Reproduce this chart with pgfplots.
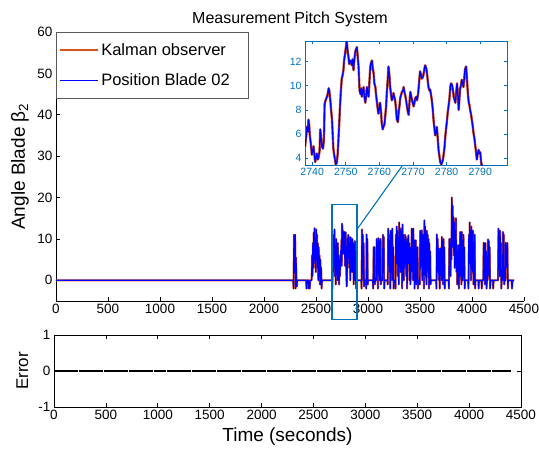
\documentclass[border=0pt]{standalone}
\usepackage{fontspec}
\setmainfont{Liberation Sans}
\usepackage{pgfplots}
\usepackage{pgfplotstable}
\pgfplotsset{compat=1.18}
\definecolor{korange}{RGB}{217,83,25}
\definecolor{pblue}{RGB}{0,0,255}
\definecolor{mblue}{RGB}{0,114,189}

\pgfplotstableread[row sep=\\]{
t v \\
0 0 \\ 2280 0 \\ 2284 -2 \\ 2288 11 \\ 2292 10.5 \\ 2296 2 \\ 2300 11 \\ 2304 -2 \\ 2308 5.5 \\ 2312 0.5 \\ 2316 -1.5 \\ 2320 0 \\
2405 0 \\ 2408 -2 \\ 2412 0 \\ 2425 0 \\ 2428 -2 \\ 2432 0 \\ 2440 -2 \\ 2444 0 \\ 2458 0 \\
2462 6 \\ 2466 1 \\ 2470 9 \\ 2474 3 \\ 2478 11.5 \\ 2482 5 \\ 2486 12.6 \\ 2490 4 \\ 2494 10 \\ 2498 2 \\ 2502 12.3 \\ 2506 6 \\ 2510 11 \\ 2514 3 \\ 2518 9 \\ 2522 0 \\ 2526 8 \\ 2530 2 \\ 2534 6 \\ 2538 -1 \\ 2542 5 \\ 2546 0 \\ 2550 3 \\ 2554 -2 \\ 2558 0 \\
2655 0 \\ 2658 -2 \\ 2662 9 \\ 2666 2 \\ 2670 11 \\ 2674 4 \\ 2678 12.3 \\ 2682 1 \\ 2686 8 \\ 2690 -1 \\ 2694 10 \\ 2698 3 \\ 2702 7 \\ 2706 0 \\ 2710 9 \\ 2714 2 \\ 2718 6 \\ 2722 -1 \\ 2726 5 \\ 2730 1 \\ 2734 4 \\
2737.9 5.0 \\ 2738.2 5.8 \\ 2738.4 6.6 \\ 2738.7 6.2 \\ 2738.9 7.2 \\ 2739.1 6.8 \\ 2739.3 5.9 \\ 2739.6 5.2 \\ 2739.9 4.3 \\ 2740.1 4.6 \\
2740.4 5.0 \\ 2740.7 4.2 \\ 2740.9 3.7 \\ 2741.2 4.1 \\ 2741.4 4.4 \\ 2741.7 3.9 \\ 2741.9 4.1 \\ 2742.2 4.6 \\ 2742.4 6.4 \\ 2742.7 5.6 \\
2742.9 5.0 \\ 2743.2 4.8 \\ 2743.5 5.5 \\ 2743.7 8.5 \\ 2744.0 8.8 \\ 2744.4 9.1 \\ 2744.6 9.3 \\ 2744.9 9.8 \\ 2745.1 9.6 \\ 2745.4 8.8 \\
2745.6 8.1 \\ 2745.9 7.2 \\ 2746.1 6.0 \\ 2746.3 4.8 \\ 2746.6 4.2 \\ 2746.8 3.9 \\ 2747.0 3.5 \\ 2747.3 3.6 \\ 2747.6 4.4 \\ 2747.8 5.5 \\
2748.1 7.2 \\ 2748.3 8.4 \\ 2748.5 9.4 \\ 2748.8 10.6 \\ 2749.0 10.8 \\ 2749.3 11.3 \\ 2749.5 12.1 \\ 2749.8 12.7 \\ 2750.0 13.1 \\ 2750.3 13.7 \\
2750.5 13.0 \\ 2750.8 12.4 \\ 2751.0 11.8 \\ 2751.3 12.1 \\ 2751.5 12.0 \\ 2751.8 11.7 \\ 2752.0 12.2 \\ 2752.3 11.3 \\ 2752.5 12.0 \\ 2752.8 12.8 \\
2753.0 13.0 \\ 2753.3 13.2 \\ 2753.5 12.6 \\ 2753.8 11.6 \\ 2754.1 9.6 \\ 2754.4 9.3 \\ 2754.6 9.8 \\ 2754.8 9.1 \\ 2755.0 9.5 \\ 2755.3 9.9 \\
2755.5 9.2 \\ 2755.8 8.6 \\ 2756.0 9.0 \\ 2756.3 9.9 \\ 2756.5 9.4 \\ 2756.8 9.1 \\ 2757.0 10.2 \\ 2757.3 11.6 \\ 2757.5 11.9 \\ 2757.8 12.1 \\
2758.0 11.5 \\ 2758.3 11.0 \\ 2758.5 10.2 \\ 2758.8 9.9 \\ 2759.0 9.3 \\ 2759.2 8.8 \\ 2759.5 8.1 \\ 2759.7 7.7 \\ 2760.0 8.2 \\ 2760.2 8.6 \\
2760.5 7.8 \\ 2760.7 6.9 \\ 2761.0 6.4 \\ 2761.2 6.6 \\ 2761.5 6.8 \\ 2761.7 7.4 \\ 2762.0 8.3 \\ 2762.2 9.4 \\ 2762.5 10.6 \\ 2762.7 11.6 \\
2763.0 10.8 \\ 2763.2 9.9 \\ 2763.5 9.2 \\ 2763.7 8.8 \\ 2764.0 9.1 \\ 2764.2 9.4 \\ 2764.5 9.0 \\ 2764.7 8.8 \\ 2765.0 7.9 \\ 2765.2 7.2 \\
2765.5 7.0 \\ 2765.7 7.7 \\ 2766.0 8.4 \\ 2766.2 9.0 \\ 2766.5 9.3 \\ 2766.7 9.5 \\ 2767.0 9.6 \\ 2767.2 9.9 \\ 2767.5 9.4 \\ 2767.7 9.2 \\
2768.0 8.7 \\ 2768.2 8.3 \\ 2768.5 7.8 \\ 2768.7 7.6 \\ 2769.0 8.8 \\ 2769.2 9.5 \\ 2769.5 9.1 \\ 2769.7 8.8 \\ 2770.0 8.5 \\ 2770.2 8.3 \\
2770.5 8.7 \\ 2770.7 9.0 \\ 2771.0 9.1 \\ 2771.2 8.8 \\ 2771.5 9.3 \\ 2771.7 9.9 \\ 2771.9 10.6 \\ 2772.1 11.2 \\ 2772.4 10.9 \\ 2772.6 10.6 \\
2772.9 10.7 \\ 2773.1 10.9 \\ 2773.4 11.4 \\ 2773.6 11.7 \\ 2773.9 11.5 \\ 2774.1 11.2 \\ 2774.4 10.4 \\ 2774.6 9.9 \\ 2774.9 9.6 \\ 2775.1 9.7 \\
2775.4 9.2 \\ 2775.6 8.8 \\ 2775.9 8.0 \\ 2776.1 7.2 \\ 2776.4 6.4 \\ 2776.6 5.9 \\ 2776.9 6.2 \\ 2777.1 6.6 \\ 2777.4 5.5 \\ 2777.6 4.7 \\
2777.9 4.1 \\ 2778.1 3.7 \\ 2778.4 3.5 \\ 2778.6 3.6 \\ 2778.9 3.9 \\ 2779.1 4.3 \\ 2779.4 5.0 \\ 2779.6 5.8 \\ 2779.9 6.6 \\ 2780.1 7.1 \\
2780.3 7.7 \\ 2780.6 8.4 \\ 2780.8 8.8 \\ 2781.1 9.9 \\ 2781.3 10.2 \\ 2781.6 10.1 \\ 2781.9 9.6 \\ 2782.1 9.1 \\ 2782.4 8.8 \\ 2782.6 8.6 \\
2782.9 9.6 \\ 2783.1 10.2 \\ 2783.4 9.0 \\ 2783.6 8.0 \\ 2783.8 8.9 \\ 2784.0 9.7 \\ 2784.3 10.1 \\ 2784.5 10.5 \\ 2784.8 10.2 \\ 2785.0 9.9 \\
2785.3 10.8 \\ 2785.5 11.4 \\ 2785.8 11.6 \\ 2786.0 10.8 \\ 2786.2 9.9 \\ 2786.4 9.1 \\ 2786.6 8.6 \\ 2786.8 8.4 \\ 2787.0 8.0 \\ 2787.3 7.6 \\
2787.5 7.2 \\ 2787.8 6.6 \\ 2788.0 6.1 \\ 2788.3 5.6 \\ 2788.5 5.1 \\ 2788.8 4.4 \\ 2789.0 3.9 \\ 2789.2 4.3 \\ 2789.5 4.7 \\ 2789.8 4.4 \\
2790.0 4.5 \\ 2790.3 3.6 \\ 2790.7 3.3 \\ 2791.2 2.0 \\ 2792.0 1.0 \\
2795 -1.5 \\ 2799 0.5 \\ 2802 10 \\ 2806 4 \\ 2810 11 \\ 2814 7 \\ 2818 10.5 \\ 2822 3 \\ 2826 9 \\ 2830 0 \\ 2834 10.4 \\ 2838 5 \\ 2842 9.6 \\ 2846 2 \\ 2850 10 \\ 2854 6 \\ 2858 9 \\ 2862 -1 \\ 2866 8 \\ 2870 3 \\ 2874 9.5 \\ 2878 0 \\ 2882 7 \\ 2886 -2 \\ 2890 0 \\
2935 0 \\ 2938 -2 \\ 2942 12.3 \\ 2946 5 \\ 2950 11 \\ 2954 0 \\ 2958 9 \\ 2962 -1.5 \\ 2966 0 \\ 2980 0 \\ 2983 -2 \\ 2986 11.1 \\ 2990 7 \\ 2994 10 \\ 2998 -1 \\ 3002 0 \\
3045 0 \\ 3050 -2 \\ 3054 8 \\ 3058 6 \\ 3062 8 \\ 3066 -1 \\ 3070 0 \\ 3080 0 \\ 3084 10 \\ 3088 3 \\ 3092 9 \\ 3096 -2 \\ 3100 10.2 \\ 3104 5 \\ 3108 9.5 \\ 3112 0 \\ 3116 7 \\ 3120 10 \\ 3124 -1 \\ 3128 0 \\
3140 0 \\ 3144 11 \\ 3148 4 \\ 3152 10.5 \\ 3156 -2 \\ 3160 0 \\ 3185 0 \\ 3190 -1 \\ 3194 12.5 \\ 3198 6 \\ 3202 11 \\ 3206 2 \\ 3210 9 \\ 3214 -2 \\ 3218 12 \\ 3222 4 \\ 3226 10 \\ 3230 0 \\ 3234 12.5 \\ 3238 3 \\ 3242 8 \\ 3246 -2 \\ 3250 0 \\
3262 0 \\ 3265 -2 \\ 3268 11 \\ 3272 4 \\ 3276 13 \\ 3280 6 \\ 3284 12 \\ 3288 1 \\ 3292 10 \\ 3296 -1 \\ 3300 14 \\ 3304 5 \\ 3308 11 \\ 3312 2 \\ 3316 12.5 \\ 3320 7 \\ 3324 10 \\ 3328 -2 \\ 3332 13.5 \\ 3336 4 \\ 3340 11 \\ 3344 0 \\ 3348 9 \\ 3352 3 \\
3356 11 \\ 3360 5 \\ 3364 10.5 \\ 3368 1 \\ 3372 9 \\ 3376 -2 \\ 3380 10 \\ 3384 4 \\ 3388 10.9 \\ 3392 6 \\ 3396 9 \\ 3400 0 \\ 3404 8 \\ 3408 -1 \\ 3412 6 \\ 3416 2 \\ 3420 12.5 \\ 3424 5 \\ 3428 11 \\ 3432 0 \\ 3436 12.5 \\ 3440 3 \\ 3444 9.7 \\ 3448 -2 \\
3452 7 \\ 3456 1 \\ 3460 9.7 \\ 3464 -1 \\ 3468 4 \\ 3472 0 \\ 3476 8 \\ 3480 -2 \\ 3484 0 \\ 3495 0 \\ 3498 -1 \\ 3502 12 \\ 3506 3 \\ 3510 10 \\ 3514 5 \\ 3518 12.1 \\ 3522 0 \\ 3526 9 \\ 3530 4 \\ 3534 11 \\ 3538 -2 \\ 3542 14.5 \\ 3546 6 \\ 3550 13 \\
3554 1 \\ 3558 8 \\ 3562 -1 \\ 3566 12 \\ 3570 4 \\ 3574 11 \\ 3578 2 \\ 3582 10 \\ 3586 -2 \\ 3590 9 \\ 3594 3 \\ 3598 7 \\ 3602 -1 \\ 3606 0 \\
3655 0 \\ 3658 -2 \\ 3662 11.1 \\ 3666 5 \\ 3670 10 \\ 3674 2 \\ 3678 7.7 \\ 3682 0 \\ 3686 7 \\ 3690 -2 \\ 3694 7.7 \\ 3698 3 \\ 3702 6 \\ 3706 0 \\ 3710 10.5 \\ 3714 4 \\ 3718 9 \\ 3722 -1 \\ 3726 10 \\ 3730 2 \\ 3734 8 \\ 3738 -2 \\ 3742 0 \\
3775 0 \\ 3778 -2 \\ 3782 10 \\ 3786 3 \\ 3790 9 \\ 3794 1 \\ 3798 10.1 \\ 3802 5 \\ 3806 20 \\ 3810 13 \\ 3814 18 \\ 3818 8 \\ 3822 15.3 \\ 3826 6 \\ 3830 14 \\ 3834 3 \\ 3838 12 \\ 3842 5 \\ 3846 15 \\ 3850 2 \\ 3854 8.5 \\ 3858 -1 \\ 3862 7 \\ 3866 2 \\
3870 8.5 \\ 3874 -2 \\ 3878 6 \\ 3882 1 \\ 3886 11.7 \\ 3890 4 \\ 3894 10 \\ 3898 -1 \\ 3902 11.7 \\ 3906 3 \\ 3910 9 \\ 3914 0 \\ 3918 11 \\ 3922 2 \\ 3926 8 \\ 3930 -2 \\ 3934 0 \\
3962 0 \\ 3966 -2 \\ 3970 11 \\ 3974 4 \\ 3978 14 \\ 3982 6 \\ 3986 12 \\ 3990 0 \\ 3994 13 \\ 3998 5 \\ 4002 11 \\ 4006 2 \\ 4010 12 \\ 4014 -1 \\ 4018 9 \\ 4022 3 \\ 4026 11 \\ 4030 -2 \\ 4034 0 \\
4060 0 \\ 4064 -2 \\ 4068 0 \\ 4090 0 \\ 4094 -2 \\ 4098 0 \\ 4108 0 \\ 4112 9.1 \\ 4116 3 \\ 4120 8.5 \\ 4124 -1 \\ 4128 9 \\ 4132 2 \\ 4136 7 \\ 4140 -2 \\ 4144 0 \\
4150 0 \\ 4154 9.9 \\ 4158 4 \\ 4162 9.5 \\ 4166 1 \\ 4170 8 \\ 4174 -2 \\ 4178 0 \\ 4200 0 \\ 4204 -2 \\ 4208 0 \\
4250 0 \\ 4254 12.5 \\ 4258 5 \\ 4262 11 \\ 4266 1 \\ 4270 12 \\ 4274 3 \\ 4278 9 \\ 4282 -2 \\ 4286 0 \\ 4295 0 \\ 4298 11.7 \\ 4302 4 \\ 4306 11 \\ 4310 -1 \\ 4314 0 \\
4322 0 \\ 4325 9.1 \\ 4329 3 \\ 4333 8.5 \\ 4337 6 \\ 4341 9 \\ 4345 -2 \\ 4349 0 \\ 4380 0 \\ 4385 -2 \\ 4390 0 \\ 4405 0 \\
}\mainData

\pgfplotstableread[row sep=\\]{
t e \\
0 0 \\ 4400 0 \\
}\errData

\begin{document}
\begin{tikzpicture}
\useasboundingbox (0,0) rectangle (539pt,-456pt);
% main axis
\begin{axis}[
  at={(56pt,-301pt)}, anchor=south west,
  scale only axis, width=468pt, height=269pt,
  xmin=0, xmax=4500, ymin=-5, ymax=60,
  xtick={0,500,...,4500}, ytick={0,10,...,60},
  axis x line*=bottom, axis y line*=left,
  axis line style={black, line width=0.6pt},
  tick align=inside, major tick length=4pt,
  every tick/.style={black, line width=0.6pt},
  /pgf/number format/assume math mode=true,
  /pgf/number format/1000 sep={},
  tick label style={font=\fontsize{13.5}{16}\selectfont},
  clip=false,
  title={Measurement Pitch System},
  title style={font=\fontsize{16}{18}\selectfont, at={(axis description cs:0.5,1)}, anchor=base, yshift=3pt},
  ylabel={Angle Blade β\textsubscript{2}},
  ylabel style={font=\fontsize{19}{22}\selectfont, at={(axis description cs:-0.077,0.5)}, anchor=center},
  legend style={at={(axis description cs:0,1)}, anchor=north west, draw=black!65, line width=0.6pt,
    font=\fontsize{16.5}{19}\selectfont, inner xsep=3pt, inner ysep=9pt, row sep=13pt},
  legend cell align=left,
  legend image code/.code={\draw[#1] (0pt,0pt) -- (38pt,0pt);},
]
\addplot[korange, line width=2pt, line join=round] table[x=t, y=v] {\mainData};
\addlegendentry{Kalman observer\kern 14pt}
\addplot[pblue, line width=1.2pt, line join=round] table[x=t, y=v] {\mainData};
\addlegendentry{Position Blade 02\kern 14pt}
\draw[mblue, line width=1.3pt] (axis cs:2654,-9.4) rectangle (axis cs:2894,18.4);
\draw[mblue, line width=1.1pt] (axis cs:2894,12.3) -- (axis cs:3327,27.6);
\end{axis}

% inset
\begin{axis}[
  at={(305pt,-165pt)}, anchor=south west,
  scale only axis, width=202pt, height=124pt,
  xmin=2737.9, xmax=2798, ymin=3.45, ymax=13.71,
  xtick={2740,2750,...,2790}, ytick={4,6,...,12},
  axis background/.style={fill=white},
  axis line style={mblue, line width=1pt},
  tick align=inside, major tick length=3pt,
  every tick/.style={mblue, line width=0.8pt},
  /pgf/number format/assume math mode=true,
  /pgf/number format/1000 sep={},
  tick label style={font=\fontsize{10.5}{12}\selectfont, text=mblue},
]
\addplot[korange, line width=2.4pt, line join=round] table[x=t, y=v] {\mainData};
\addplot[pblue, line width=1.3pt, line join=round] table[x=t, y=v] {\mainData};
\end{axis}

% error axis
\begin{axis}[
  at={(54pt,-407pt)}, anchor=south west,
  scale only axis, width=467pt, height=72pt,
  xmin=0, xmax=4500, ymin=-1, ymax=1,
  xtick={0,500,...,4500}, ytick={-1,0,1},
  axis line style={black, line width=0.6pt},
  tick align=inside, major tick length=4pt,
  every tick/.style={black, line width=0.6pt},
  /pgf/number format/assume math mode=true,
  /pgf/number format/1000 sep={},
  tick label style={font=\fontsize{13.5}{16}\selectfont},
  xlabel={Time (seconds)},
  xlabel style={font=\fontsize{19}{22}\selectfont, at={(axis description cs:0.5,0)}, anchor=center, yshift=-30pt},
  ylabel={Error},
  ylabel style={font=\fontsize{17}{20}\selectfont, at={(axis description cs:-0.068,0.5)}, anchor=center},
]
\addplot[black, line width=2.2pt, dash pattern=on 12pt off 0.5pt] table[x=t, y=e] {\errData};
\end{axis}
\end{tikzpicture}
\end{document}
